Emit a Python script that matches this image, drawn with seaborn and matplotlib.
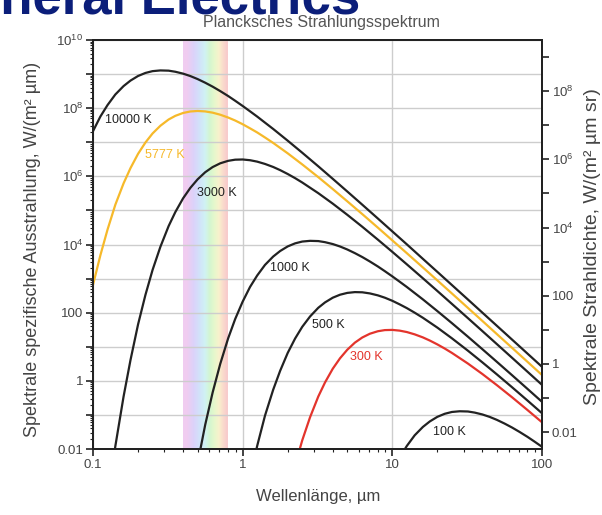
import numpy as np
import pandas as pd
import matplotlib.pyplot as plt
import seaborn as sns
from matplotlib.ticker import FixedLocator, FuncFormatter, NullFormatter, NullLocator, LogLocator

sns.set_theme(style='ticks')
plt.rcParams['font.family'] = ['Liberation Sans', 'DejaVu Sans']
plt.rcParams['mathtext.fontset'] = 'custom'
plt.rcParams['mathtext.rm'] = 'Liberation Sans'
plt.rcParams['mathtext.it'] = 'Liberation Sans:italic'

# Wellenlaenge in um und spezifische Ausstrahlung in W/(m^2 um)
lam_10000 = [0.1, 0.112, 0.125, 0.141, 0.16, 0.178, 0.2, 0.224, 0.25, 0.282, 0.32, 0.355, 0.4,
             0.447, 0.5, 0.562, 0.63, 0.708, 0.8, 0.891, 1, 1.12, 1.25, 1.41, 1.6, 2, 2.5, 3.2, 4,
             5, 6.3, 8, 10, 12.5, 16, 20, 25, 32, 40, 50, 63, 80, 100]
m_10000 = [2.11e7, 5.68e7, 1.23e8, 2.52e8, 4.44e8, 6.44e8, 8.79e8, 1.08e9, 1.22e9, 1.28e9,
           1.26e9, 1.17e9, 1.03e9, 8.75e8, 7.14e8, 5.58e8, 4.28e8, 3.17e8, 2.27e8, 1.65e8,
           1.16e8, 8.08e7, 5.67e7, 3.76e7, 2.45e7, 1.11e7, 4.93e6, 1.97e6, 8.44e5, 3.59e5,
           1.47e5, 5.80e4, 2.42e4, 1.01e4, 3.79e3, 1.57e3, 647, 243, 99.7, 41.0, 16.3, 6.29, 2.58]

lam_5777 = lam_10000
m_5777 = [650, 4.82e3, 2.72e4, 1.47e5, 6.20e5, 1.74e6, 4.57e6, 9.82e6, 1.81e7, 3.05e7,
          4.65e7, 5.96e7, 7.23e7, 8.00e7, 8.27e7, 8.03e7, 7.38e7, 6.43e7, 5.31e7, 4.34e7,
          3.38e7, 2.56e7, 1.94e7, 1.38e7, 9.54e6, 4.73e6, 2.24e6, 9.47e5, 4.23e5, 1.85e5,
          7.78e4, 3.13e4, 1.32e4, 5.56e3, 2.12e3, 882, 366, 138, 56.9, 23.4, 9.35, 3.61, 1.48]

lam_3000 = [0.125, 0.141, 0.16, 0.178, 0.2, 0.224, 0.25, 0.282, 0.32, 0.355, 0.4, 0.447, 0.5,
            0.562, 0.63, 0.708, 0.8, 0.891, 1, 1.12, 1.25, 1.41, 1.6, 1.78, 2, 2.24, 2.5, 3.2, 4,
            5, 6.3, 8, 10, 12.5, 16, 20, 25, 32, 40, 50, 63, 80, 100]
m_3000 = [2.67e-4, 0.0121, 0.343, 4.06, 45.1, 331, 1.79e3, 8.55e3, 3.46e4, 8.97e4,
          2.27e5, 4.58e5, 8.17e5, 1.32e6, 1.87e6, 2.41e6, 2.85e6, 3.08e6, 3.12e6, 2.97e6,
          2.70e6, 2.31e6, 1.88e6, 1.52e6, 1.17e6, 8.85e5, 6.60e5, 3.21e5, 1.58e5, 7.44e4,
          3.31e4, 1.39e4, 6.08e3, 2.62e3, 1.02e3, 432, 181, 69.0, 28.7, 11.9, 4.77, 1.85, 0.762]

lam_1000 = [0.447, 0.5, 0.562, 0.63, 0.708, 0.8, 0.891, 1, 1.12, 1.25, 1.41, 1.6, 1.78, 2, 2.24,
            2.5, 2.82, 3.2, 3.55, 4, 4.47, 5, 5.62, 6.3, 7.08, 8, 8.91, 10, 11.2, 12.5, 16, 20,
            25, 32, 40, 50, 63, 80, 100]
m_1000 = [2.16e-4, 3.8e-3, 0.0514, 0.455, 3.13, 17.7, 64.9, 211, 568, 1.23e3,
          2.52e3, 4.44e3, 6.44e3, 8.79e3, 1.08e4, 1.22e4, 1.28e4, 1.26e4, 1.17e4, 1.03e4,
          8.75e3, 7.14e3, 5.58e3, 4.28e3, 3.17e3, 2.27e3, 1.65e3, 1.16e3, 808, 567,
          245, 111, 49.3, 19.7, 8.44, 3.59, 1.47, 0.580, 0.242]

lam_500 = [1, 1.12, 1.25, 1.41, 1.6, 1.78, 2, 2.24, 2.5, 2.82, 3.2, 3.55, 4, 4.47, 5, 5.62, 6.3,
           7.08, 8, 8.91, 10, 11.2, 12.5, 14.1, 16, 20, 25, 32, 40, 50, 63, 80, 100]
m_500 = [1.19e-4, 1.53e-3, 0.0123, 0.0953, 0.552, 1.97, 6.60, 17.4, 38.4, 77.3,
         139, 200, 275, 336, 380, 401, 396, 367, 322, 275,
         223, 175, 136, 99.9, 70.8, 36.4, 17.7, 7.65, 3.47, 1.54, 0.652, 0.264, 0.112]

lam_300 = [1.78, 2, 2.24, 2.5, 2.82, 3.2, 3.55, 4, 4.47, 5, 5.62, 6.3, 7.08, 8, 8.91, 10, 11.2,
           12.5, 14.1, 16, 17.8, 20, 22.4, 25, 32, 40, 50, 63, 80, 100]
m_300 = [4.06e-5, 4.51e-4, 3.31e-3, 0.0179, 0.0855, 0.346, 0.897, 2.27, 4.58, 8.17,
         13.2, 18.7, 24.1, 28.5, 30.8, 31.2, 29.7, 27.0, 23.1, 18.8,
         15.2, 11.7, 8.85, 6.60, 3.21, 1.58, 0.744, 0.331, 0.139, 0.0608]

lam_100 = [8.91, 10, 11.2, 12.5, 14.1, 16, 17.8, 20, 22.4, 25, 28.2, 32, 35.5, 40, 44.7, 50,
           56.2, 63, 70.8, 80, 89.1, 100]
m_100 = [6.49e-4, 2.11e-3, 5.68e-3, 0.0123, 0.0252, 0.0444, 0.0644, 0.0879, 0.108, 0.122,
         0.128, 0.126, 0.117, 0.103, 0.0875, 0.0714, 0.0558, 0.0428, 0.0317, 0.0227,
         0.0165, 0.0116]

temps = ['10000 K', '5777 K', '3000 K', '1000 K', '500 K', '300 K', '100 K']
lams = [lam_10000, lam_5777, lam_3000, lam_1000, lam_500, lam_300, lam_100]
series = [m_10000, m_5777, m_3000, m_1000, m_500, m_300, m_100]
colors = {'10000 K': '#222222', '5777 K': '#f6b92a', '3000 K': '#222222', '1000 K': '#222222',
          '500 K': '#222222', '300 K': '#e3342c', '100 K': '#222222'}

# Beschriftung der Kurven (linke Kante, Mitte)
label_x = [0.120, 0.222, 0.495, 1.52, 2.91, 5.21, 18.8]
label_y = [4.5e7, 4.2e6, 3.3e5, 2.0e3, 43, 5.0, 0.032]

# sichtbares Spektrum
vis_range = [0.4, 0.8]
vis_colors = ['#f0ccf0', '#dcd2fa', '#d2e2fa', '#d0f2f4', '#d4f6d0', '#e6f8cc', '#f8f2cc',
              '#fadccc', '#f8cccc']

df = pd.concat([pd.DataFrame({'wavelength': l, 'exitance': m, 'temp': t})
                for l, m, t in zip(lams, series, temps)], ignore_index=True)

fig = plt.figure(figsize=(6.02, 5.15), dpi=100, facecolor='white')
ax = fig.add_axes([93 / 602, 66 / 515, 449 / 602, 409 / 515])
ax.set_xscale('log')
ax.set_yscale('log')

rgb = np.array([[tuple(int(c[i:i + 2], 16) / 255 for i in (1, 3, 5)) for c in vis_colors]])
ax.imshow(rgb, extent=[vis_range[0], vis_range[1], 0.01, 1e10], aspect='auto',
          interpolation='bilinear', zorder=0)

sns.lineplot(data=df, x='wavelength', y='exitance', hue='temp', palette=colors,
             estimator=None, sort=False, legend=False, lw=1.6, ax=ax, zorder=3)

for t, x, y in zip(temps, label_x, label_y):
    ax.text(x, y, t, color=colors[t], fontsize=9, ha='left', va='center', zorder=4)

ax.set_xlim(0.1, 100)
ax.set_ylim(0.01, 1e10)


def decade_fmt(v, pos):
    e = int(round(np.log10(v)))
    if e % 2:
        return ''
    if e >= 4:
        return rf'$10^{{{e}}}$'
    return f'{v:g}'


ax.xaxis.set_major_locator(FixedLocator([0.1, 1, 10, 100]))
ax.xaxis.set_major_formatter(FuncFormatter(lambda v, p: f'{v:g}'))
ax.xaxis.set_minor_locator(LogLocator(base=10, subs=np.arange(2, 10), numticks=20))
ax.xaxis.set_minor_formatter(NullFormatter())
ax.yaxis.set_major_locator(FixedLocator(10.0 ** np.arange(-2, 11)))
ax.yaxis.set_major_formatter(FuncFormatter(decade_fmt))
ax.yaxis.set_minor_locator(LogLocator(base=10, subs=np.arange(2, 10), numticks=30))
ax.yaxis.set_minor_formatter(NullFormatter())

ax.grid(True, which='major', color='#cdcdcd', lw=1.0)
ax.set_axisbelow(True)
ax.tick_params(which='major', direction='out', length=5, width=1.2, color='#222222',
               labelcolor='#444444', labelsize=9.5, pad=2)
ax.tick_params(which='minor', direction='out', length=2.5, width=0.8, color='#222222')
for s in ax.spines.values():
    s.set_color('#222222')
    s.set_linewidth(1.4)

ax.set_xlabel('Wellenlänge, µm', fontsize=12, color='#444444')
ax.xaxis.set_label_coords(0.501, -0.098)
ax.set_ylabel('Spektrale spezifische Ausstrahlung, W/(m² µm)', fontsize=13, color='#444444')
ax.yaxis.set_label_coords(-0.116, 0.487)

# rechte Achse: Strahldichte = Ausstrahlung / pi
ax2 = ax.twinx()
ax2.set_yscale('log')
ax2.set_ylim(0.01 / np.pi, 1e10 / np.pi)
ax2.yaxis.set_major_locator(FixedLocator(10.0 ** np.arange(-2, 10)))
ax2.yaxis.set_major_formatter(FuncFormatter(decade_fmt))
ax2.yaxis.set_minor_locator(NullLocator())
ax2.tick_params(which='major', direction='out', length=5, width=1.2, color='#222222',
                labelcolor='#444444', labelsize=9.5, pad=2)
ax2.grid(False)
for s in ax2.spines.values():
    s.set_color('#222222')
    s.set_linewidth(1.4)
ax2.set_ylabel('Spektrale Strahldichte, W/(m² µm sr)', fontsize=14, color='#444444')
ax2.yaxis.set_label_coords(1.094, 0.494)

fig.text(321 / 602, 1 - 22 / 515, 'Plancksches Strahlungsspektrum', fontsize=11.5,
         color='#555555', ha='center', va='center')
fig.text(-70 / 602, 1 - 14 / 515, 'General Electrics', fontsize=38, fontweight='bold',
         color='#0b1e7a', ha='left', va='baseline')

fig.savefig('out.png', dpi=100, facecolor='white')
